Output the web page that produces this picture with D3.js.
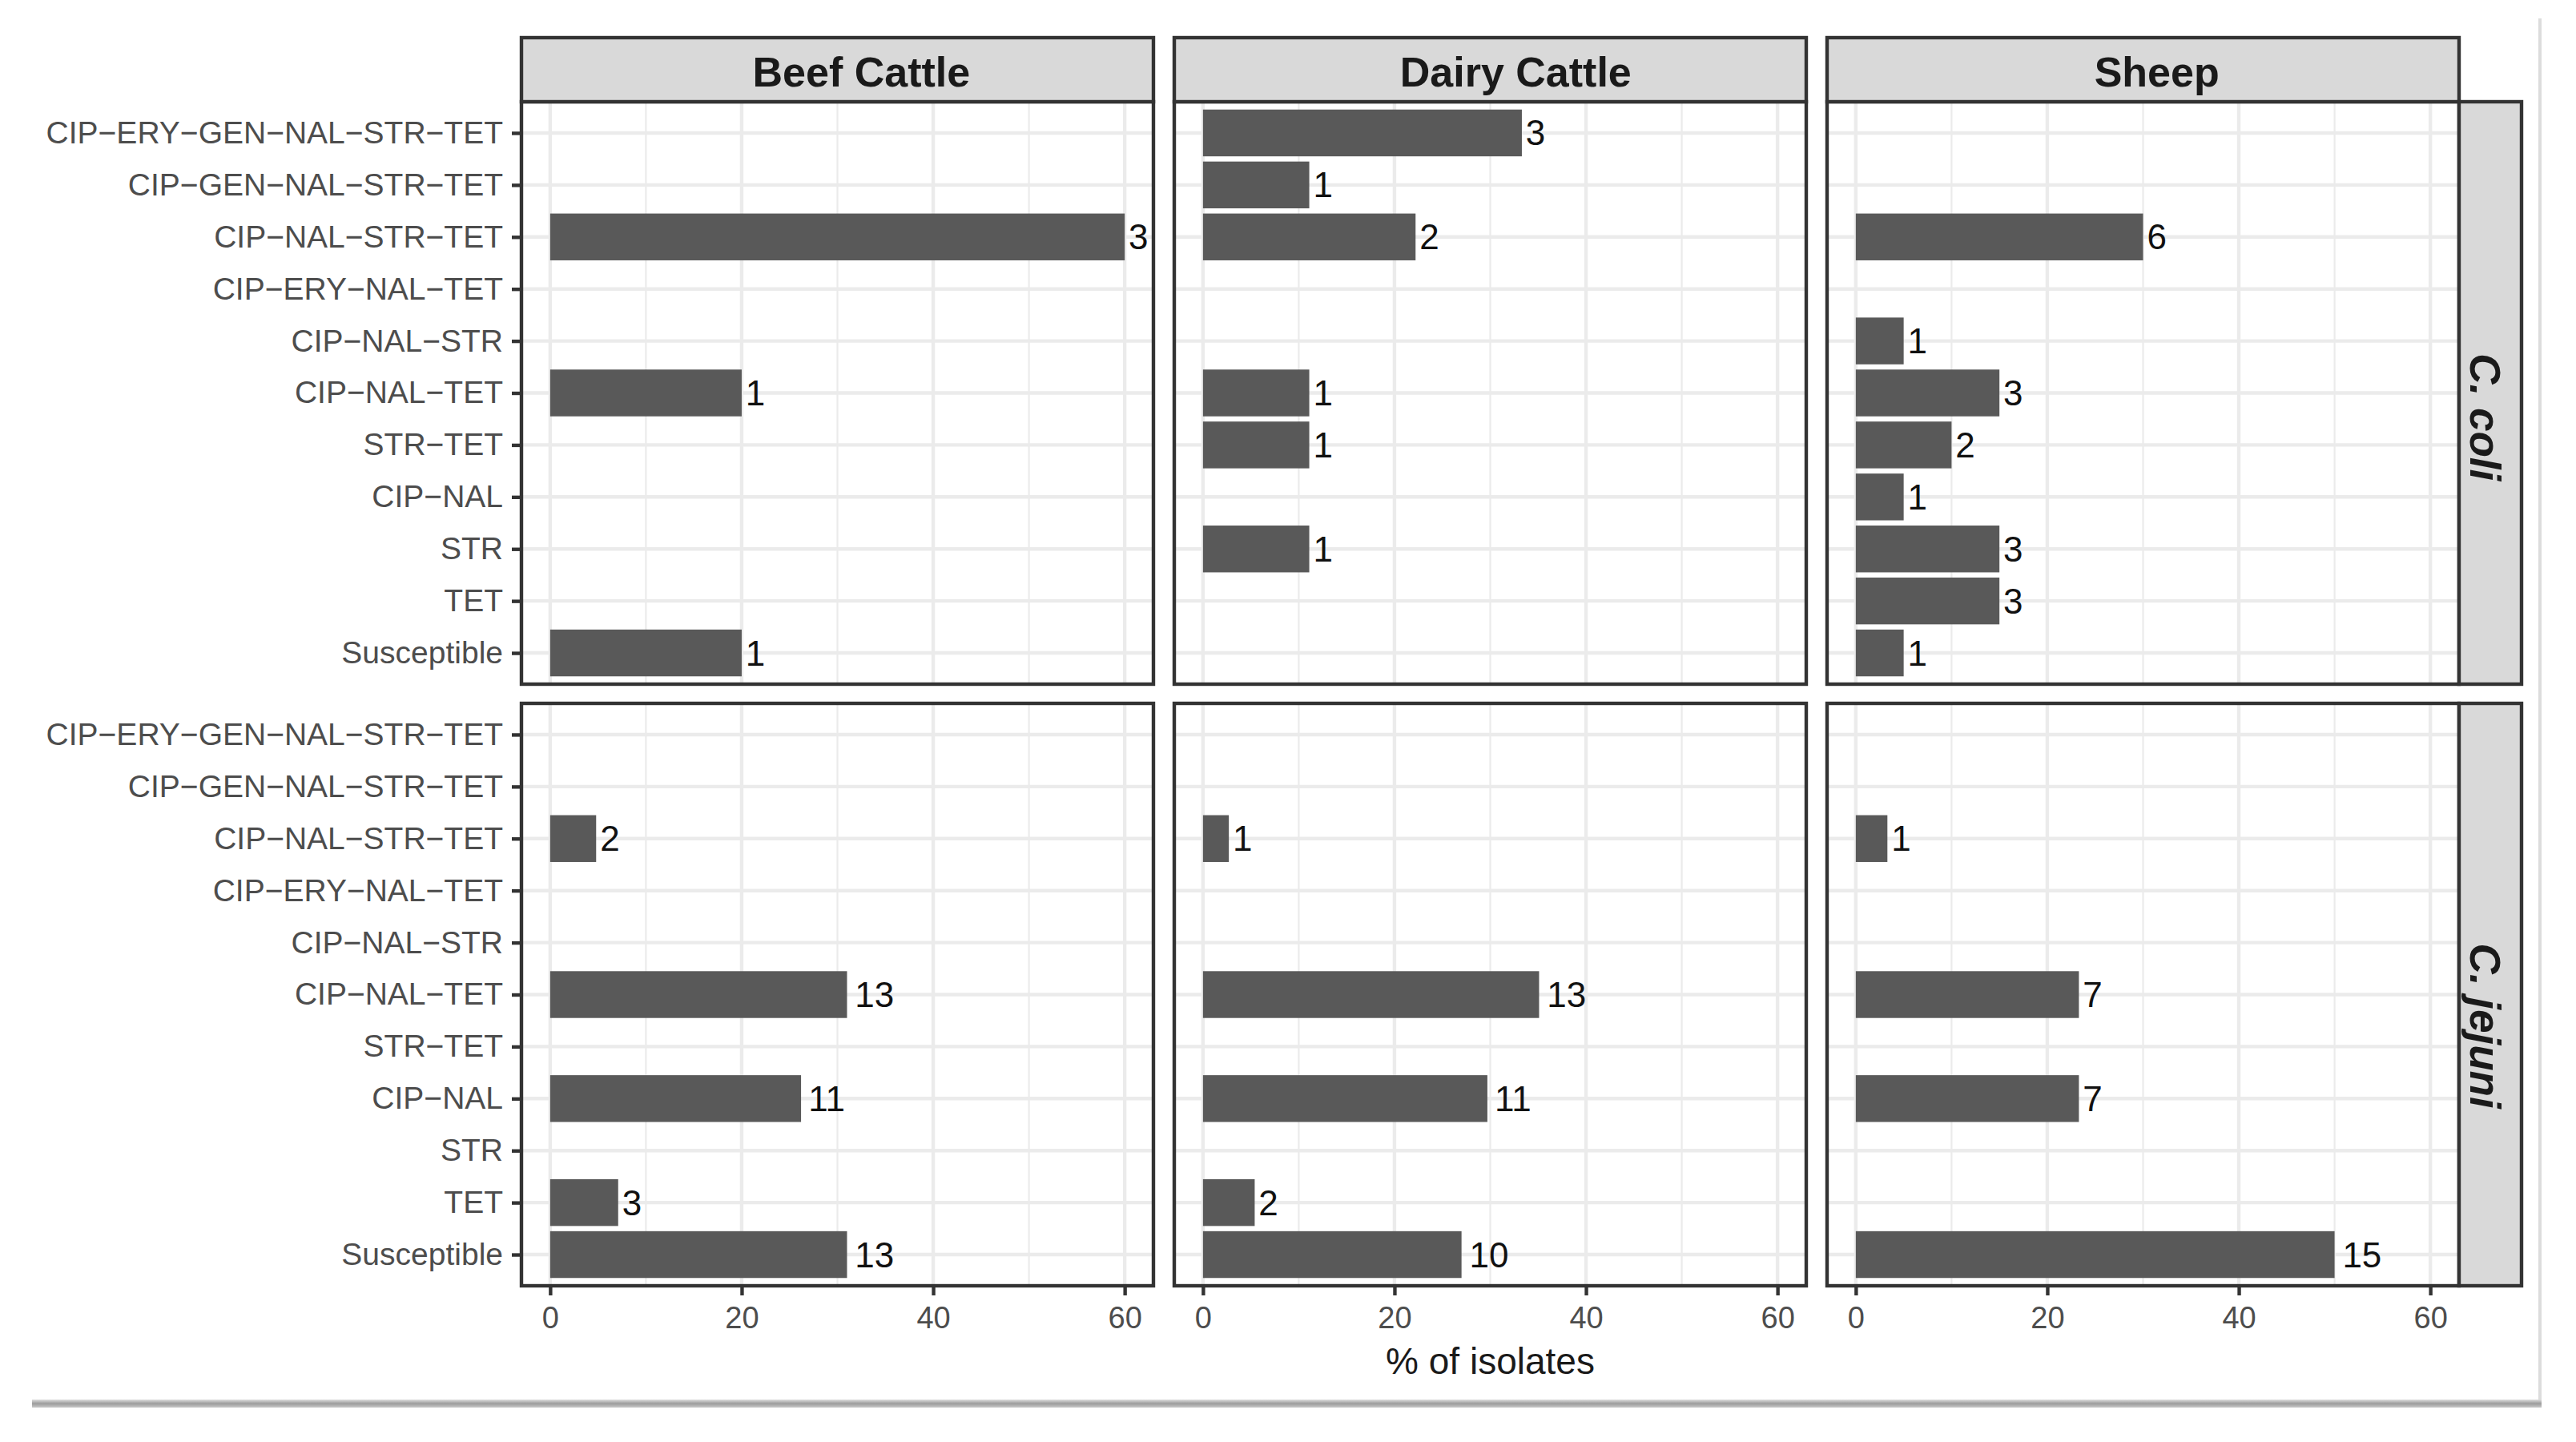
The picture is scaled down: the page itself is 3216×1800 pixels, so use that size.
<!DOCTYPE html>
<html>
<head>
<meta charset="utf-8">
<script src="https://cdn.jsdelivr.net/npm/d3@7"></script>
<style>
	body { margin: 0; background: #fff; }
	text { font-family: "Liberation Sans", Arial, Helvetica, sans-serif; }
</style>
</head>
<body>
<div id="viz"></div>
<script>
// resistance profiles, top to bottom
const categories = [
	'CIP-ERY-GEN-NAL-STR-TET',
	'CIP-GEN-NAL-STR-TET',
	'CIP-NAL-STR-TET',
	'CIP-ERY-NAL-TET',
	'CIP-NAL-STR',
	'CIP-NAL-TET',
	'STR-TET',
	'CIP-NAL',
	'STR',
	'TET',
	'Susceptible'
];
const hosts = ['Beef Cattle', 'Dairy Cattle', 'Sheep'];
const species = ['C. coli', 'C. jejuni'];
const xTicks = [0, 20, 40, 60];

// % of isolates (bar length) and number of isolates (bar label), null = no bar
const beefColiPct = [null, null, 60, null, null, 20, null, null, null, null, 20];
const beefColiN = [null, null, 3, null, null, 1, null, null, null, null, 1];
const dairyColiPct = [33.3, 11.1, 22.2, null, null, 11.1, 11.1, null, 11.1, null, null];
const dairyColiN = [3, 1, 2, null, null, 1, 1, null, 1, null, null];
const sheepColiPct = [null, null, 30, null, 5, 15, 10, 5, 15, 15, 5];
const sheepColiN = [null, null, 6, null, 1, 3, 2, 1, 3, 3, 1];
const beefJejuniPct = [null, null, 4.8, null, null, 31, null, 26.2, null, 7.1, 31];
const beefJejuniN = [null, null, 2, null, null, 13, null, 11, null, 3, 13];
const dairyJejuniPct = [null, null, 2.7, null, null, 35.1, null, 29.7, null, 5.4, 27];
const dairyJejuniN = [null, null, 1, null, null, 13, null, 11, null, 2, 10];
const sheepJejuniPct = [null, null, 3.3, null, null, 23.3, null, 23.3, null, null, 50];
const sheepJejuniN = [null, null, 1, null, null, 7, null, 7, null, null, 15];

const panelPct = [
	[beefColiPct, dairyColiPct, sheepColiPct],
	[beefJejuniPct, dairyJejuniPct, sheepJejuniPct]
];
const panelN = [
	[beefColiN, dairyColiN, sheepColiN],
	[beefJejuniN, dairyJejuniN, sheepJejuniN]
];

const width = 3216, height = 1800;
const colLeft = [651, 1466, 2281];
const rowTop = [127, 878];
const panelW = 789, panelH = 727;
const stripTop = 47, stripH = 80, stripW = 78;
const border = '#333333';
const lineW = 4.4;

const svg = d3.select('#viz').append('svg')
	.attr('width', width)
	.attr('height', height);

svg.append('rect').attr('width', width).attr('height', height).attr('fill', '#fff');

const x = d3.scaleLinear().domain([-3, 63]).range([0, panelW]);
const y = d3.scalePoint().domain(categories).range([0, panelH]).padding(0.6);
const barH = y.step() * 0.9;
const minorTicks = [10, 30, 50];

species.forEach((sp, r) => {
	hosts.forEach((host, c) => {
		const g = svg.append('g')
			.attr('transform', 'translate(' + colLeft[c] + ',' + rowTop[r] + ')');

		g.append('rect')
			.attr('width', panelW).attr('height', panelH).attr('fill', '#fff');

		g.selectAll('.minor').data(minorTicks).enter().append('line')
			.attr('x1', (d) => x(d)).attr('x2', (d) => x(d))
			.attr('y1', 0).attr('y2', panelH)
			.attr('stroke', '#EBEBEB').attr('stroke-width', 2.2);

		g.selectAll('.vmajor').data(xTicks).enter().append('line')
			.attr('x1', (d) => x(d)).attr('x2', (d) => x(d))
			.attr('y1', 0).attr('y2', panelH)
			.attr('stroke', '#EBEBEB').attr('stroke-width', 4.4);

		g.selectAll('.hmajor').data(categories).enter().append('line')
			.attr('x1', 0).attr('x2', panelW)
			.attr('y1', (d) => y(d)).attr('y2', (d) => y(d))
			.attr('stroke', '#EBEBEB').attr('stroke-width', 4.4);

		const rows = categories
			.map((cat, i) => ({ cat: cat, pct: panelPct[r][c][i], n: panelN[r][c][i] }))
			.filter((d) => d.pct !== null);

		g.selectAll('.bar').data(rows).enter().append('rect')
			.attr('x', x(0))
			.attr('y', (d) => y(d.cat) - barH / 2)
			.attr('width', (d) => x(d.pct) - x(0))
			.attr('height', barH)
			.attr('fill', '#595959');

		g.selectAll('.lbl').data(rows).enter().append('text')
			.attr('y', (d) => y(d.cat))
			.attr('dominant-baseline', 'central')
			.attr('font-size', 44)
			.attr('fill', '#111')
			.text((d) => d.n)
			.attr('x', function (d) { return x(d.pct) + 0.2 * this.getComputedTextLength(); });

		g.append('rect')
			.attr('width', panelW).attr('height', panelH)
			.attr('fill', 'none').attr('stroke', border).attr('stroke-width', lineW);

		if (c === 0) {
			const ax = g.append('g')
				.call(d3.axisLeft(y).tickSize(12).tickPadding(11)
					.tickFormat((d) => d.replace(/-/g, '\u2212')));
			ax.select('.domain').remove();
			ax.selectAll('line').attr('stroke', border).attr('stroke-width', lineW);
			ax.selectAll('text').attr('fill', '#4D4D4D').attr('font-size', 39)
				.attr('font-family', '"Liberation Sans", Arial, sans-serif');
		}
		if (r === species.length - 1) {
			const ax = g.append('g')
				.attr('transform', 'translate(0,' + panelH + ')')
				.call(d3.axisBottom(x).tickValues(xTicks).tickSize(12).tickPadding(14));
			ax.select('.domain').remove();
			ax.selectAll('line').attr('stroke', border).attr('stroke-width', lineW);
			ax.selectAll('text').attr('fill', '#4D4D4D').attr('font-size', 38)
				.attr('font-family', '"Liberation Sans", Arial, sans-serif');
		}
	});
});

// column strips (labels sit a little right of centre, as in the original)
hosts.forEach((host, c) => {
	svg.append('rect')
		.attr('x', colLeft[c]).attr('y', stripTop)
		.attr('width', panelW).attr('height', stripH)
		.attr('fill', '#D9D9D9').attr('stroke', border).attr('stroke-width', lineW);
	svg.append('text')
		.attr('y', 108)
		.attr('font-size', 52).attr('font-weight', 'bold').attr('fill', '#1A1A1A')
		.text(host)
		.attr('x', function () {
			const w = this.getComputedTextLength();
			return colLeft[c] + panelW / 2 - w / 2 + 0.11 * w;
		});
});

// row strips (labels sit a little below centre)
const stripX = colLeft[2] + panelW;
species.forEach((sp, r) => {
	svg.append('rect')
		.attr('x', stripX).attr('y', rowTop[r])
		.attr('width', stripW).attr('height', panelH)
		.attr('fill', '#D9D9D9').attr('stroke', border).attr('stroke-width', lineW);
	const t = svg.append('text')
		.attr('font-size', 53).attr('font-weight', 'bold').attr('font-style', 'italic')
		.attr('fill', '#1A1A1A')
		.text(sp);
	const w = t.node().getComputedTextLength();
	const start = rowTop[r] + panelH / 2 - w / 2 + 0.19 * w;
	t.attr('transform', 'translate(' + (stripX + 14) + ',' + start + ') rotate(90)');
});

// x axis title
svg.append('text')
	.attr('x', colLeft[0] + (colLeft[2] + panelW - colLeft[0]) / 2)
	.attr('y', 1715)
	.attr('text-anchor', 'middle')
	.attr('font-size', 46).attr('fill', '#1A1A1A')
	.text('% of isolates');

// figure frame (light right edge, shaded bottom edge)
const grad = svg.append('defs').append('linearGradient')
	.attr('id', 'shade').attr('x1', 0).attr('x2', 0).attr('y1', 0).attr('y2', 1);
grad.append('stop').attr('offset', '0%').attr('stop-color', '#dedede');
grad.append('stop').attr('offset', '50%').attr('stop-color', '#9c9c9c');
grad.append('stop').attr('offset', '100%').attr('stop-color', '#c8c8c8');

svg.append('line')
	.attr('x1', 3171).attr('x2', 3171).attr('y1', 23).attr('y2', 1752)
	.attr('stroke', '#dcdcdc').attr('stroke-width', 4);
svg.append('rect')
	.attr('x', 40).attr('y', 1747).attr('width', 3133).attr('height', 10)
	.attr('fill', 'url(#shade)');
</script>
</body>
</html>
